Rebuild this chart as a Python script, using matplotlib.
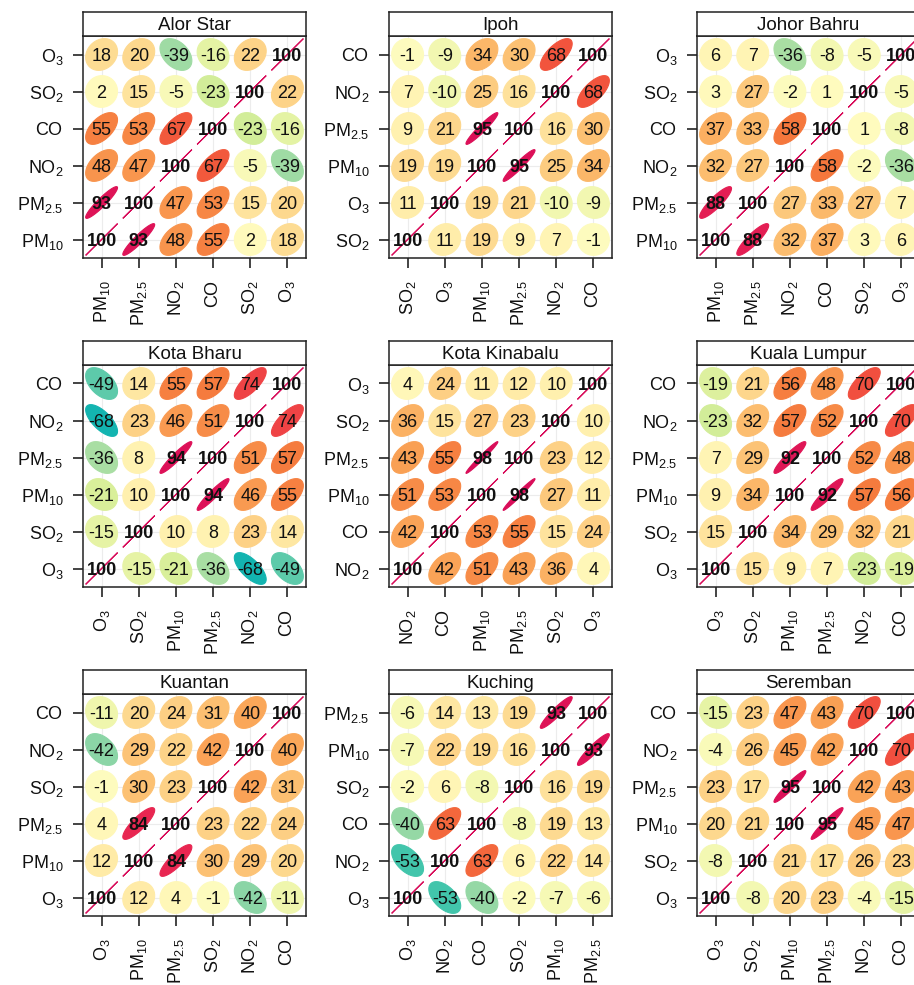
import numpy as np
import matplotlib
matplotlib.use("Agg")
import matplotlib.pyplot as plt
from matplotlib.colors import LinearSegmentedColormap
from matplotlib.patches import Polygon

plt.rcParams['font.family'] = ['Liberation Sans', 'DejaVu Sans']
plt.rcParams['mathtext.fontset'] = 'custom'
plt.rcParams['mathtext.rm'] = 'Liberation Sans'
plt.rcParams['mathtext.it'] = 'Liberation Sans:italic'
plt.rcParams['mathtext.bf'] = 'Liberation Sans:bold'

# ---- correlation data (%), rows/cols follow each site's variable order ----
SITES = ["Alor Star", "Ipoh", "Johor Bahru",
         "Kota Bharu", "Kota Kinabalu", "Kuala Lumpur",
         "Kuantan", "Kuching", "Seremban"]

ALOR_STAR_VARS = ["PM10", "PM2.5", "NO2", "CO", "SO2", "O3"]
ALOR_STAR_R = [[100, 93, 48, 55, 2, 18],
               [93, 100, 47, 53, 15, 20],
               [48, 47, 100, 67, -5, -39],
               [55, 53, 67, 100, -23, -16],
               [2, 15, -5, -23, 100, 22],
               [18, 20, -39, -16, 22, 100]]

IPOH_VARS = ["SO2", "O3", "PM10", "PM2.5", "NO2", "CO"]
IPOH_R = [[100, 11, 19, 9, 7, -1],
          [11, 100, 19, 21, -10, -9],
          [19, 19, 100, 95, 25, 34],
          [9, 21, 95, 100, 16, 30],
          [7, -10, 25, 16, 100, 68],
          [-1, -9, 34, 30, 68, 100]]

JOHOR_BAHRU_VARS = ["PM10", "PM2.5", "NO2", "CO", "SO2", "O3"]
JOHOR_BAHRU_R = [[100, 88, 32, 37, 3, 6],
                 [88, 100, 27, 33, 27, 7],
                 [32, 27, 100, 58, -2, -36],
                 [37, 33, 58, 100, 1, -8],
                 [3, 27, -2, 1, 100, -5],
                 [6, 7, -36, -8, -5, 100]]

KOTA_BHARU_VARS = ["O3", "SO2", "PM10", "PM2.5", "NO2", "CO"]
KOTA_BHARU_R = [[100, -15, -21, -36, -68, -49],
                [-15, 100, 10, 8, 23, 14],
                [-21, 10, 100, 94, 46, 55],
                [-36, 8, 94, 100, 51, 57],
                [-68, 23, 46, 51, 100, 74],
                [-49, 14, 55, 57, 74, 100]]

KOTA_KINABALU_VARS = ["NO2", "CO", "PM10", "PM2.5", "SO2", "O3"]
KOTA_KINABALU_R = [[100, 42, 51, 43, 36, 4],
                   [42, 100, 53, 55, 15, 24],
                   [51, 53, 100, 98, 27, 11],
                   [43, 55, 98, 100, 23, 12],
                   [36, 15, 27, 23, 100, 10],
                   [4, 24, 11, 12, 10, 100]]

KUALA_LUMPUR_VARS = ["O3", "SO2", "PM10", "PM2.5", "NO2", "CO"]
KUALA_LUMPUR_R = [[100, 15, 9, 7, -23, -19],
                  [15, 100, 34, 29, 32, 21],
                  [9, 34, 100, 92, 57, 56],
                  [7, 29, 92, 100, 52, 48],
                  [-23, 32, 57, 52, 100, 70],
                  [-19, 21, 56, 48, 70, 100]]

KUANTAN_VARS = ["O3", "PM10", "PM2.5", "SO2", "NO2", "CO"]
KUANTAN_R = [[100, 12, 4, -1, -42, -11],
             [12, 100, 84, 30, 29, 20],
             [4, 84, 100, 23, 22, 24],
             [-1, 30, 23, 100, 42, 31],
             [-42, 29, 22, 42, 100, 40],
             [-11, 20, 24, 31, 40, 100]]

KUCHING_VARS = ["O3", "NO2", "CO", "SO2", "PM10", "PM2.5"]
KUCHING_R = [[100, -53, -40, -2, -7, -6],
             [-53, 100, 63, 6, 22, 14],
             [-40, 63, 100, -8, 19, 13],
             [-2, 6, -8, 100, 16, 19],
             [-7, 22, 19, 16, 100, 93],
             [-6, 14, 13, 19, 93, 100]]

SEREMBAN_VARS = ["O3", "SO2", "PM10", "PM2.5", "NO2", "CO"]
SEREMBAN_R = [[100, -8, 20, 23, -4, -15],
              [-8, 100, 21, 17, 26, 23],
              [20, 21, 100, 95, 45, 47],
              [23, 17, 95, 100, 42, 43],
              [-4, 26, 45, 42, 100, 70],
              [-15, 23, 47, 43, 70, 100]]

PANELS = [
    (ALOR_STAR_VARS, ALOR_STAR_R), (IPOH_VARS, IPOH_R),
    (JOHOR_BAHRU_VARS, JOHOR_BAHRU_R), (KOTA_BHARU_VARS, KOTA_BHARU_R),
    (KOTA_KINABALU_VARS, KOTA_KINABALU_R), (KUALA_LUMPUR_VARS, KUALA_LUMPUR_R),
    (KUANTAN_VARS, KUANTAN_R), (KUCHING_VARS, KUCHING_R),
    (SEREMBAN_VARS, SEREMBAN_R),
]

LABELS = {
    "PM10": r"$\mathregular{PM_{10}}$",
    "PM2.5": r"$\mathregular{PM_{2.5}}$",
    "NO2": r"$\mathregular{NO_2}$",
    "SO2": r"$\mathregular{SO_2}$",
    "O3": r"$\mathregular{O_3}$",
    "CO": r"$\mathregular{CO}\ \,$",
}

# diverging colour ramp for r in [-1, 1]
RAMP = [(-1.00, "#2E5AA8"), (-0.80, "#0AA8B4"), (-0.68, "#14B5B0"),
        (-0.53, "#42C5AB"), (-0.45, "#78D0A8"), (-0.38, "#A4DCA4"),
        (-0.22, "#D6EE98"), (-0.12, "#EEF6AC"), (0.00, "#FFFCC0"),
        (0.10, "#FFF0AE"), (0.20, "#FDD88E"), (0.30, "#FCC274"),
        (0.40, "#FAA85A"), (0.50, "#F8904A"), (0.58, "#F5783C"),
        (0.68, "#F2563C"), (0.75, "#EE4046"), (0.85, "#E82452"),
        (0.95, "#DC1058"), (1.00, "#D80C5A")]
cmap = LinearSegmentedColormap.from_list(
    "corr", [((v + 1) / 2, c) for v, c in RAMP])

T = np.sqrt(-2 * np.log(1 - 0.9))   # 90% level for 2 d.f.
SCALE = 0.2


def ellipse_xy(r, cx, cy, n=50):
    a = np.linspace(0, 2 * np.pi, n)
    d = np.arccos(np.clip(r, -1, 1))
    return np.column_stack([cx + T * SCALE * np.cos(a + d / 2),
                            cy + T * SCALE * np.cos(a - d / 2)])


W, H = 914, 985
fig = plt.figure(figsize=(W / 100, H / 100), dpi=100)
fig.patch.set_facecolor("white")

COL_LEFT = [83, 389, 697]
ROW_TOP = [36, 365, 694]
PW, PH, STRIP_H = 223, 222, 24

for k, (site, (vars_, mat)) in enumerate(zip(SITES, PANELS)):
    row, col = divmod(k, 3)
    L, top = COL_LEFT[col], ROW_TOP[row]
    ax = fig.add_axes([L / W, 1 - (top + PH) / H, PW / W, PH / H])
    st = fig.add_axes([L / W, 1 - top / H, PW / W, STRIP_H / H])

    n = len(vars_)
    ax.set_xlim(0.5, n + 0.5)
    ax.set_ylim(0.5, n + 0.5)
    for g in range(1, n + 1):
        ax.axvline(g, color="#ececec", lw=0.8, zorder=0)
        ax.axhline(g, color="#ececec", lw=0.8, zorder=0)

    for i in range(n):
        for j in range(n):
            v = mat[i][j]
            r = v / 100.0
            c = cmap((r + 1) / 2)
            poly = Polygon(ellipse_xy(r, j + 1, i + 1), closed=True,
                           facecolor=c, edgecolor=c, lw=0.8, zorder=2)
            ax.add_patch(poly)
            ax.text(j + 1, i + 1, f"{v}", ha="center", va="center_baseline",
                    fontsize=13, color="#111111", zorder=3,
                    fontweight="bold" if abs(v) >= 80 else "normal")

    ticks = np.arange(1, n + 1)
    ax.set_xticks(ticks)
    ax.set_yticks(ticks)
    ax.set_xticklabels([LABELS[v] for v in vars_], rotation=90)
    ax.set_yticklabels([LABELS[v] for v in vars_])
    ax.tick_params(direction="out", length=7, width=1.1, pad=7,
                   labelsize=13, colors="#111111", top=False, right=False)
    ax.tick_params(axis="x", pad=9)
    for sp in ax.spines.values():
        sp.set_linewidth(1.1)
        sp.set_color("#222222")

    st.set_xticks([])
    st.set_yticks([])
    st.set_xlim(0, 1)
    st.set_ylim(0, 1)
    for sp in st.spines.values():
        sp.set_linewidth(1.1)
        sp.set_color("#222222")
    st.text(0.5, 0.45, site, ha="center", va="center", fontsize=13.5,
            color="#111111")

fig.savefig("out.png", dpi=100, facecolor="white")
